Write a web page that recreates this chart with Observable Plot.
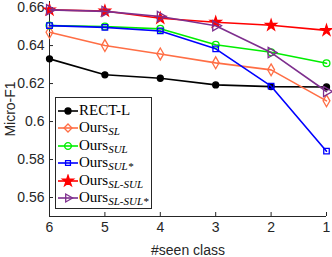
<!DOCTYPE html>
<html>
<head>
<meta charset="utf-8">
<script src="https://cdn.jsdelivr.net/npm/d3@7"></script>
<script src="https://cdn.jsdelivr.net/npm/@observablehq/plot@0.6"></script>
<style>
  html, body { margin: 0; padding: 0; background: #fff; }
  #wrap { position: relative; width: 332px; height: 257px; }
  #legend {
    position: absolute; left: 55px; top: 97px; width: 97px; height: 112px;
    border: 1px solid #262626; background: #fff; box-sizing: border-box;
    font-family: "Liberation Serif", "DejaVu Serif", serif; font-size: 15px; color: #000;
    padding-top: 4px;
  }
  .row { display: flex; align-items: center; height: 17.5px; white-space: nowrap; }
  .row svg { flex: none; margin-left: 1px; }
  .row span sub { font-style: italic; font-size: 11px; vertical-align: -3px; }
</style>
</head>
<body>
<div id="wrap"></div>
<script>
const seenClass = [6, 5, 4, 3, 2, 1];
const seriesNames = ["RECT-L", "Ours_SL", "Ours_SUL", "Ours_SUL*", "Ours_SL-SUL", "Ours_SL-SUL*"];
const subLabels = ["", "SL", "SUL", "SUL*", "SL-SUL", "SL-SUL*"];
const rectL     = [0.6330, 0.6246, 0.6228, 0.6193, 0.6184, 0.6182];
const oursSL    = [0.6470, 0.6400, 0.6356, 0.6309, 0.6272, 0.6109];
const oursSUL   = [0.6505, 0.6500, 0.6488, 0.6404, 0.6365, 0.6307];
const oursSULs  = [0.6505, 0.6496, 0.6477, 0.6383, 0.6186, 0.5844];
const oursSLSUL = [0.6588, 0.6582, 0.6544, 0.6523, 0.6507, 0.6480];
const oursSLSULs= [0.6588, 0.6580, 0.6553, 0.6504, 0.6363, 0.6158];
const yTicks = [0.56, 0.58, 0.60, 0.62, 0.64, 0.66];

const colors = ["#000000", "#FF6E45", "#00EE00", "#0000FF", "#FF0000", "#7E2F8E"];
const symbols = ["circle", "diamond", "circle", "square", "star", "triangle"];
const filled = [true, false, false, false, true, false];
const radii = [3, 3.6, 3.4, 3.1, 3.4, 3.8];
const rotations = [0, 0, 0, 0, 0, 90];
const allValues = [rectL, oursSL, oursSUL, oursSULs, oursSLSUL, oursSLSULs];

const marks = [];
allValues.forEach((vals, i) => {
  const data = seenClass.map((x, j) => ({x, y: vals[j]}));
  marks.push(Plot.line(data, {x: "x", y: "y", stroke: colors[i], strokeWidth: 1.6}));
  marks.push(Plot.dot(data, {
    x: "x", y: "y", symbol: symbols[i], r: radii[i], rotate: rotations[i],
    stroke: colors[i], strokeWidth: 1.3,
    fill: filled[i] ? colors[i] : "none"
  }));
});

const chart = Plot.plot({
  width: 332, height: 257,
  marginLeft: 49, marginRight: 6, marginTop: 1, marginBottom: 41,
  style: {fontFamily: "'Liberation Sans', Arial, sans-serif", fontSize: "14px", color: "#262626", background: "#fff", overflow: "visible"},
  x: {domain: [6, 1]},
  y: {domain: [0.55, 0.6632]},
  marks: [
    Plot.axisX({ticks: seenClass, tickSize: -4, tickPadding: 10, tickFormat: d => String(d), label: "#seen class", labelAnchor: "center", labelArrow: "none", labelOffset: 38, stroke: "#262626", fill: "#262626"}),
    Plot.axisY({ticks: yTicks, tickSize: -4, tickPadding: 9, tickFormat: d => String(+d.toFixed(2)), label: "Micro-F1", labelAnchor: "center", labelArrow: "none", labelOffset: 44, stroke: "#262626", fill: "#262626"}),
    Plot.ruleX([6], {y1: 0.55, y2: 0.6632, stroke: "#262626"}),
    Plot.ruleY([0.55], {stroke: "#262626"}),
    ...marks
  ]
});

const wrap = document.getElementById("wrap");
wrap.appendChild(chart);

const legend = document.createElement("div");
legend.id = "legend";
seriesNames.forEach((name, i) => {
  const row = document.createElement("div");
  row.className = "row";
  const svg = d3.create("svg").attr("width", 22).attr("height", 14);
  svg.append("line").attr("x1", 1).attr("x2", 21).attr("y1", 7).attr("y2", 7)
    .attr("stroke", colors[i]).attr("stroke-width", 1.6);
  const symMap = {circle: d3.symbolCircle, diamond: d3.symbolDiamond2, square: d3.symbolSquare2, star: d3.symbolStar, triangle: d3.symbolTriangle2};
  const area = Math.PI * radii[i] * radii[i];
  svg.append("path").attr("d", d3.symbol(symMap[symbols[i]], area)())
    .attr("transform", `translate(11,7) rotate(${rotations[i]})`)
    .attr("stroke", colors[i]).attr("stroke-width", 1.3)
    .attr("fill", filled[i] ? colors[i] : "none");
  row.appendChild(svg.node());
  const span = document.createElement("span");
  if (subLabels[i]) {
    span.innerHTML = "Ours<sub>" + subLabels[i].replace("-", "‑") + "</sub>";
  } else {
    span.textContent = name;
  }
  row.appendChild(span);
  legend.appendChild(row);
});
wrap.appendChild(legend);
</script>
</body>
</html>
